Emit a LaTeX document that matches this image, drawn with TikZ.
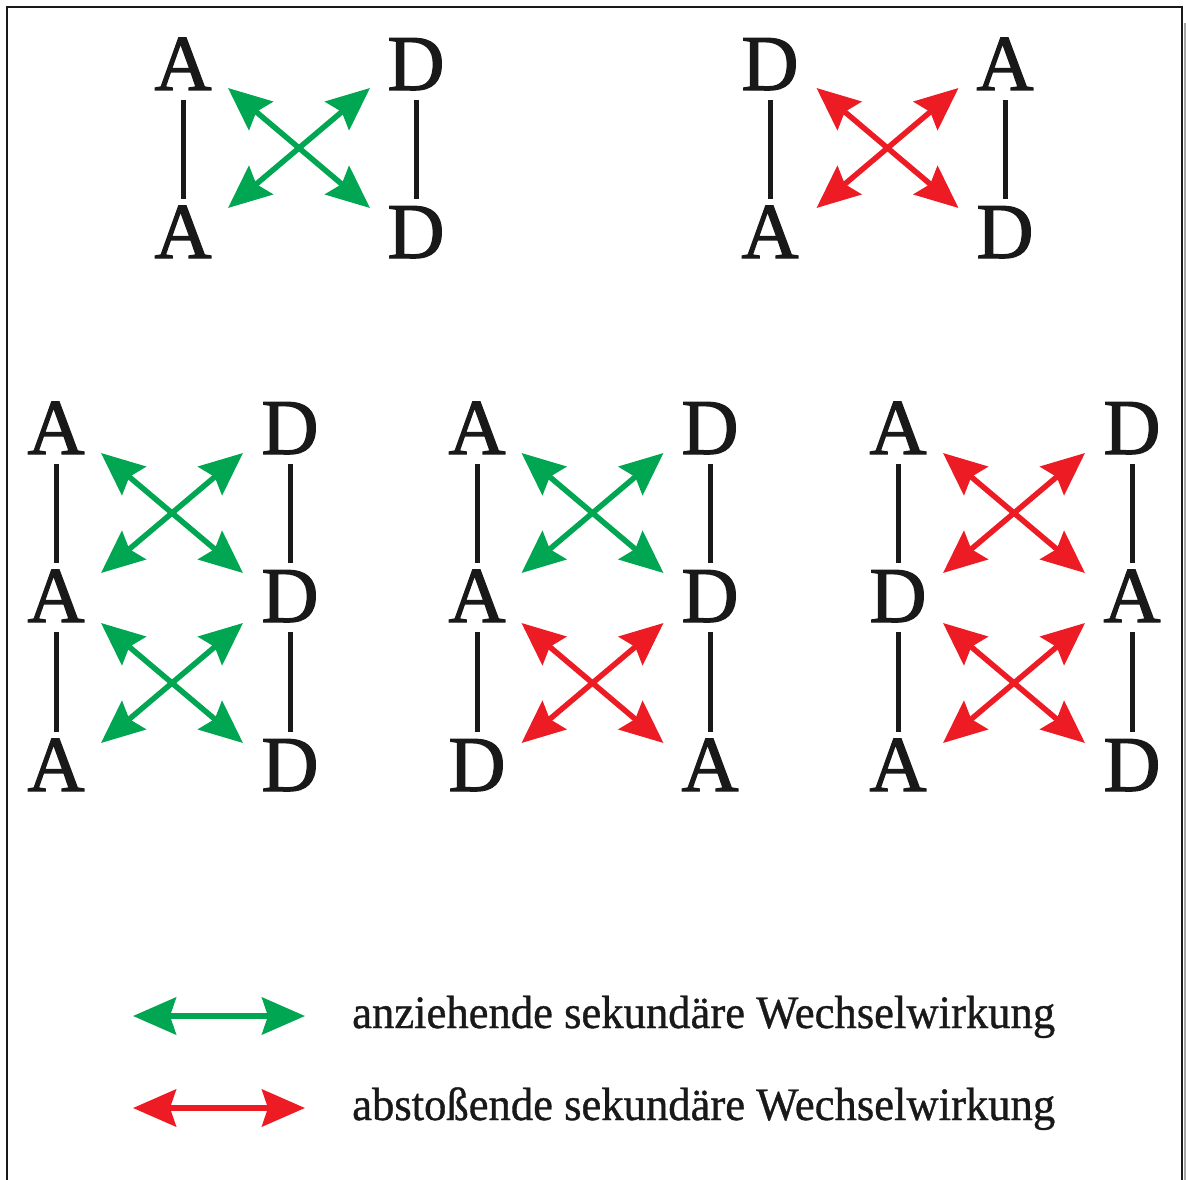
\documentclass[tikz,border=0pt]{standalone}
\usepackage{fontspec}
\setmainfont{Liberation Serif}
\newfontfamily\letfont[FakeBold=1.6]{Liberation Serif}
\newfontfamily\legfont[FakeStretch=0.96,FakeBold=0.8]{Liberation Serif}
\usetikzlibrary{arrows.meta}
\definecolor{attgreen}{RGB}{0,166,81}
\definecolor{repred}{RGB}{237,28,36}
\tikzset{
  tip/.tip={Stealth[length=43pt,width=37pt,inset=6pt]},
  att/.style={draw=attgreen, line width=5.5pt, tip-tip},
  rep/.style={draw=repred, line width=5.5pt, tip-tip},
  lett/.style={font=\letfont\fontsize{79}{79}\selectfont, inner sep=0pt, anchor=base, text height=53pt, text depth=0pt, text=black!90},
  bond/.style={draw=black!90, line width=5pt, shorten <=10pt, shorten >=6pt},
  legtext/.style={font=\legfont\fontsize{46.5}{46.5}\selectfont, inner sep=0pt, anchor=base west, text=black!90},
  pics/xpair/.style={code={
    \coordinate (-nw) at (-71,-60);
    \coordinate (-ne) at (71,-60);
    \coordinate (-sw) at (-71,60);
    \coordinate (-se) at (71,60);
    \draw[#1] (-nw) -- (-se);
    \draw[#1] (-ne) -- (-sw);
  }},
}
\begin{document}
\begin{tikzpicture}[x=1pt,y=-1pt]
\useasboundingbox (0,0) rectangle (1186,1180);
% frame
\draw[line width=2pt, black!90] (7,1180) -- (7,7) -- (1182,7) -- (1182,1180);
\fill[black!35] (1183.5,23) rectangle (1186,1180);

% ---- top left group ----
\node[lett] (a1l) at (183,90) {A};
\node[lett] (a2l) at (183,258) {A};
\node[lett] (a1r) at (416,90) {D};
\node[lett] (a2r) at (416,258) {D};
\draw[bond] (a1l) -- (a2l);
\draw[bond] (a1r) -- (a2r);
\pic (ax) at (299,148) {xpair=att};

% ---- top right group ----
\node[lett] (b1l) at (770,90) {D};
\node[lett] (b2l) at (770,258) {A};
\node[lett] (b1r) at (1005,90) {A};
\node[lett] (b2r) at (1005,258) {D};
\draw[bond] (b1l) -- (b2l);
\draw[bond] (b1r) -- (b2r);
\pic (bx) at (887.5,148) {xpair=rep};

% ---- bottom group 1 ----
\node[lett] (c1l) at (56,454) {A};
\node[lett] (c2l) at (56,622) {A};
\node[lett] (c3l) at (56,791) {A};
\node[lett] (c1r) at (290,454) {D};
\node[lett] (c2r) at (290,622) {D};
\node[lett] (c3r) at (290,791) {D};
\draw[bond] (c1l) -- (c2l);
\draw[bond] (c2l) -- (c3l);
\draw[bond] (c1r) -- (c2r);
\draw[bond] (c2r) -- (c3r);
\pic (cx1) at (172,513) {xpair=att};
\pic (cx2) at (172,683) {xpair=att};

% ---- bottom group 2 ----
\node[lett] (d1l) at (477,454) {A};
\node[lett] (d2l) at (477,622) {A};
\node[lett] (d3l) at (477,791) {D};
\node[lett] (d1r) at (710,454) {D};
\node[lett] (d2r) at (710,622) {D};
\node[lett] (d3r) at (710,791) {A};
\draw[bond] (d1l) -- (d2l);
\draw[bond] (d2l) -- (d3l);
\draw[bond] (d1r) -- (d2r);
\draw[bond] (d2r) -- (d3r);
\pic (dx1) at (592.5,513) {xpair=att};
\pic (dx2) at (592.5,683) {xpair=rep};

% ---- bottom group 3 ----
\node[lett] (e1l) at (898,454) {A};
\node[lett] (e2l) at (898,622) {D};
\node[lett] (e3l) at (898,791) {A};
\node[lett] (e1r) at (1132,454) {D};
\node[lett] (e2r) at (1132,622) {A};
\node[lett] (e3r) at (1132,791) {D};
\draw[bond] (e1l) -- (e2l);
\draw[bond] (e2l) -- (e3l);
\draw[bond] (e1r) -- (e2r);
\draw[bond] (e2r) -- (e3r);
\pic (ex1) at (1014,513) {xpair=rep};
\pic (ex2) at (1014,683) {xpair=rep};

% ---- legend ----
\coordinate (lg1a) at (133,1016);
\coordinate (lg1b) at (305,1016);
\coordinate (lg2a) at (133,1108);
\coordinate (lg2b) at (305,1108);
\draw[att] (lg1a) -- (lg1b);
\draw[rep] (lg2a) -- (lg2b);
\node[legtext] (lt1) at (352,1028) {anziehende sekundäre Wechselwirkung};
\node[legtext] (lt2) at (352,1120) {abstoßende sekundäre Wechselwirkung};
\end{tikzpicture}
\end{document}
